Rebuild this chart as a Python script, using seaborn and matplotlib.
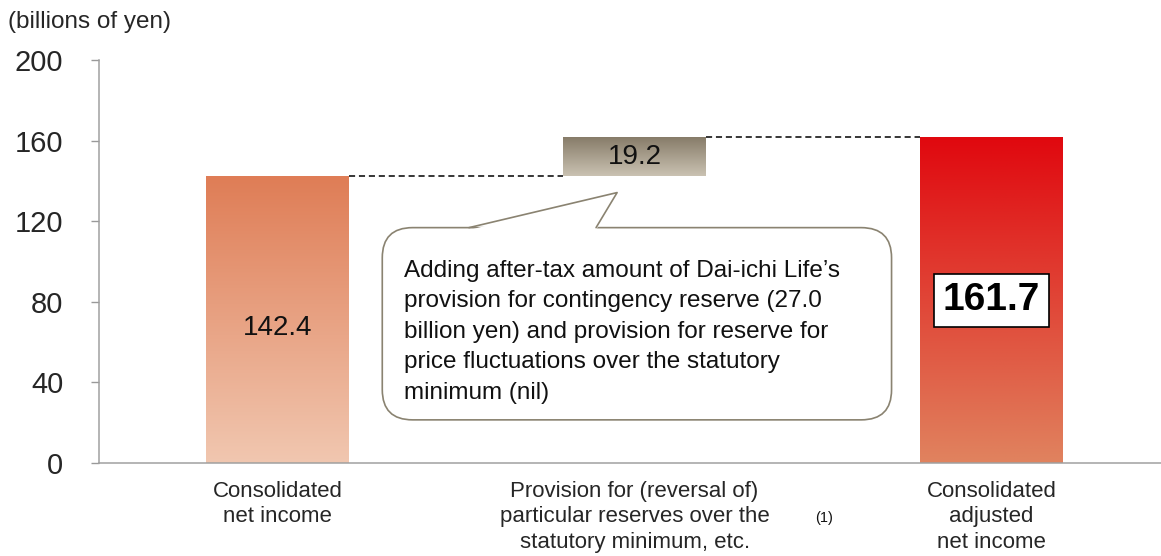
import numpy as np
import pandas as pd
import matplotlib
matplotlib.use("Agg")
import matplotlib.pyplot as plt
import seaborn as sns
from matplotlib.colors import to_rgb
from matplotlib.patches import FancyBboxPatch, Polygon

# data
categories = ["Consolidated\nnet income",
              "Provision for (reversal of)\nparticular reserves over the\nstatutory minimum, etc.",
              "Consolidated\nadjusted\nnet income"]
values = [142.4, 19.2, 161.7]
bar_labels = ["142.4", "19.2", "161.7"]
y_ticks = [0, 40, 80, 120, 160, 200]
note_text = ("Adding after-tax amount of Dai-ichi Life\u2019s\n"
             "provision for contingency reserve (27.0\n"
             "billion yen) and provision for reserve for\n"
             "price fluctuations over the statutory\n"
             "minimum (nil)")

# gradient colours (top, bottom) per bar
grad_colors = [("#df7d56", "#f1c7b0"),
               ("#877c69", "#cac2b2"),
               ("#e0080f", "#e0835f")]

sns.set_theme(style="white")
plt.rcParams["font.family"] = ["Liberation Sans", "DejaVu Sans"]

df = pd.DataFrame({"cat": categories, "val": values})
bottoms = [0, values[0], 0]

fig = plt.figure(figsize=(11.61, 5.56), dpi=100)
ax = fig.add_axes([0.0855, 0.1673, 0.9145, 0.7248])

sns.barplot(data=df, x="cat", y="val", ax=ax, width=0.4,
            color="white", saturation=1, linewidth=0)

patches = ax.patches[:3]
for i, p in enumerate(patches):
    p.set_y(bottoms[i])
    p.set_facecolor("none")
    x, y, w, h = p.get_x(), p.get_y(), p.get_width(), p.get_height()
    top, bot = np.array(to_rgb(grad_colors[i][0])), np.array(to_rgb(grad_colors[i][1]))
    t = np.linspace(0, 1, 256)[:, None]
    grad = (bot * (1 - t) + top * t)[:, None, :]
    im = ax.imshow(grad, extent=[x, x + w, y, y + h], origin="lower",
                   aspect="auto", zorder=1)
    im.set_clip_path(p)

# dashed connectors
p0, p1, p2 = patches
ax.plot([p0.get_x() + p0.get_width(), p1.get_x()], [values[0]] * 2,
        color="black", ls=(0, (4, 2.5)), lw=1.1, zorder=2)
ax.plot([p1.get_x() + p1.get_width(), p2.get_x()], [values[2]] * 2,
        color="black", ls=(0, (4, 2.5)), lw=1.1, zorder=2)

# value labels
ax.text(0, values[0] / 2 - 4, bar_labels[0], ha="center", va="center",
        fontsize=20, color="#111111", zorder=3)
ax.text(1, bottoms[1] + values[1] / 2, bar_labels[1], ha="center", va="center",
        fontsize=20, color="#111111", zorder=3)
ax.text(2, values[2] / 2, bar_labels[2], ha="center", va="center",
        fontsize=28, fontweight="bold", color="black", zorder=3,
        bbox=dict(boxstyle="square,pad=0.22", fc="white", ec="black", lw=1.2))

# callout box
bx0, bx1, by0, by1 = 0.293, 1.72, 21.4, 116.8
box = FancyBboxPatch((bx0, by0), bx1 - bx0, by1 - by0,
                     boxstyle="round,pad=0,rounding_size=0.085",
                     mutation_aspect=176, fc="white", ec="#8a8371", lw=1.2, zorder=4)
ax.add_patch(box)
tail = [(0.536, by1), (0.951, 134.2), (0.892, by1)]
ax.add_patch(Polygon([(0.536, by1 - 1.2), (0.951, 134.2), (0.892, by1 - 1.2)],
                     closed=True, fc="white", ec="none", zorder=5))
ax.plot([tail[0][0], tail[1][0], tail[2][0]], [tail[0][1], tail[1][1], tail[2][1]],
        color="#8a8371", lw=1.2, zorder=6)
ax.text(bx0 + 0.06, 100.8, note_text, ha="left", va="top", fontsize=17.5,
        linespacing=1.5, color="#111111", zorder=7)

# axes styling
ax.set_xlim(-0.5, 2.475)
ax.set_ylim(0, 200)
ax.set_yticks(y_ticks)
ax.set_yticklabels([str(v) for v in y_ticks], fontsize=21)
ax.set_xticks([0, 1, 2])
ax.set_xticklabels(categories, fontsize=16, linespacing=1.27)
ax.set_xticks([-0.5, 0.5, 1.5], minor=True)
ax.tick_params(axis="x", which="major", length=0, pad=13)
ax.tick_params(axis="x", which="minor", length=7, width=1, color="#999999", direction="out")
ax.tick_params(axis="y", length=6, width=1, color="#999999", direction="out", pad=20, left=True)
ax.set_xlabel("")
ax.set_ylabel("")
for s in ["top", "right"]:
    ax.spines[s].set_visible(False)
for s in ["left", "bottom"]:
    ax.spines[s].set_color("#a0a0a0")
    ax.spines[s].set_linewidth(1.1)

ax.text(1.53, -27.5, "(1)", ha="center", va="center", fontsize=10.5, color="#111111")
fig.text(8 / 1161, 1 - 22 / 556, "(billions of yen)", ha="left", va="center", fontsize=17.5)

fig.savefig("out.png", dpi=100)
